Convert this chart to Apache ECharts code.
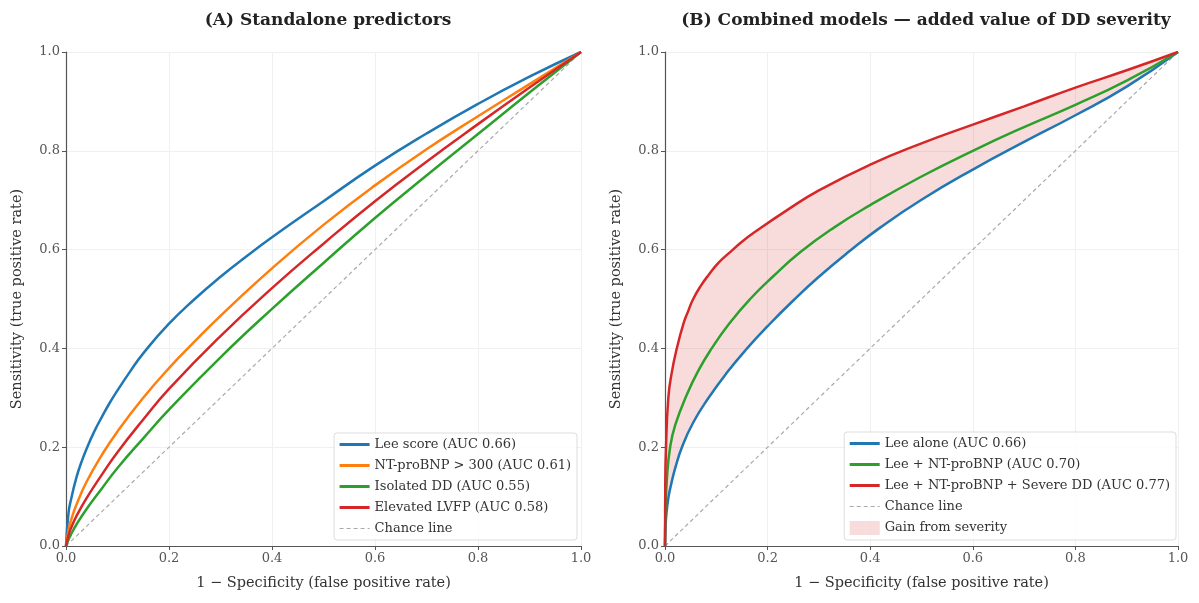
<!DOCTYPE html>
<html>
<head>
<meta charset="utf-8">
<script src="https://cdn.jsdelivr.net/npm/echarts@6/dist/echarts.min.js"></script>
<style>
  html, body { margin: 0; padding: 0; background: #fff; }
  #chart { width: 1199px; height: 603px; }
</style>
</head>
<body>
<div id="chart"></div>
<script>
// ROC points [1 - specificity, sensitivity]

// panel A: standalone predictors
var leeScore = [[0,0],[0.005,0.068],[0.01,0.095],[0.02,0.138],[0.03,0.17],[0.04,0.197],[0.055,0.232],[0.07,0.262],[0.085,0.29],[0.1,0.315],[0.125,0.354],[0.15,0.39],[0.2,0.45],[0.25,0.5],[0.3,0.545],[0.35,0.586],[0.4,0.625],[0.5,0.698],[0.6,0.77],[0.7,0.835],[0.8,0.895],[0.9,0.95],[1,1]];
var ntProBnp = [[0,0],[0.005,0.033],[0.01,0.053],[0.02,0.083],[0.04,0.13],[0.07,0.185],[0.1,0.232],[0.15,0.3],[0.2,0.36],[0.25,0.414],[0.3,0.466],[0.4,0.562],[0.5,0.65],[0.6,0.73],[0.7,0.803],[0.8,0.87],[0.9,0.935],[1,1]];
var isolatedDD = [[0,0],[0.005,0.013],[0.01,0.024],[0.02,0.043],[0.04,0.075],[0.07,0.117],[0.1,0.158],[0.15,0.218],[0.2,0.276],[0.3,0.382],[0.4,0.48],[0.5,0.573],[0.6,0.664],[0.7,0.75],[0.8,0.834],[0.9,0.918],[1,1]];
var elevatedLVFP = [[0,0],[0.005,0.022],[0.01,0.037],[0.02,0.06],[0.04,0.097],[0.07,0.145],[0.1,0.19],[0.15,0.256],[0.2,0.318],[0.3,0.425],[0.4,0.522],[0.5,0.612],[0.6,0.698],[0.7,0.778],[0.8,0.854],[0.9,0.928],[1,1]];

// panel B: combined models
var leeAlone = [[0,0],[0.001,0.035],[0.003,0.068],[0.007,0.1],[0.012,0.125],[0.02,0.158],[0.033,0.2],[0.055,0.25],[0.085,0.3],[0.12,0.35],[0.16,0.4],[0.2,0.445],[0.25,0.497],[0.3,0.545],[0.36,0.597],[0.42,0.645],[0.5,0.701],[0.6,0.762],[0.7,0.818],[0.8,0.872],[0.9,0.93],[1,1]];
var leeNtProBnp = [[0,0],[0.001,0.07],[0.004,0.14],[0.01,0.2],[0.02,0.245],[0.042,0.305],[0.065,0.355],[0.091,0.4],[0.125,0.45],[0.166,0.5],[0.21,0.545],[0.264,0.595],[0.33,0.645],[0.4,0.69],[0.5,0.748],[0.6,0.8],[0.7,0.848],[0.8,0.893],[0.9,0.942],[1,1]];
var leeNtSevereDD = [[0,0],[0.0005,0.12],[0.002,0.2],[0.0065,0.3],[0.013,0.35],[0.023,0.4],[0.036,0.45],[0.045,0.475],[0.055,0.5],[0.07,0.527],[0.086,0.55],[0.105,0.574],[0.127,0.595],[0.15,0.616],[0.177,0.637],[0.238,0.68],[0.3,0.72],[0.4,0.772],[0.5,0.815],[0.6,0.853],[0.7,0.89],[0.8,0.928],[0.9,0.963],[1,1]];

var chance = [[0,0],[1,1]];

var namesA = ['Lee score (AUC 0.66)', 'NT-proBNP > 300 (AUC 0.61)', 'Isolated DD (AUC 0.55)', 'Elevated LVFP (AUC 0.58)', 'Chance line'];
var namesB = ['Lee alone (AUC 0.66)', 'Lee + NT-proBNP (AUC 0.70)', 'Lee + NT-proBNP + Severe DD (AUC 0.77)', 'Chance line', 'Gain from severity'];

var BLUE = '#1f77b4', ORANGE = '#ff7f0e', GREEN = '#2ca02c', RED = '#d62728';
var GAIN = 'rgba(214,39,40,0.17)';
var FONT = 'DejaVu Serif';

var myChart = echarts.init(document.getElementById('chart'));

function axisX(idx) {
    return {
        type: 'value', gridIndex: idx, min: 0, max: 1, interval: 0.2,
        name: '1 \u2212 Specificity (false positive rate)',
        nameLocation: 'middle', nameGap: 30,
        nameTextStyle: { fontFamily: FONT, fontSize: 14.5, color: '#333' },
        axisLine: { lineStyle: { color: '#555', width: 1.2 } },
        axisTick: { show: true, length: 4, lineStyle: { color: '#555' } },
        axisLabel: { fontFamily: FONT, fontSize: 13, color: '#555', margin: 6,
            formatter: function (v) { return v.toFixed(1); } },
        splitLine: { show: true, lineStyle: { color: '#f0f0f0', width: 1 } }
    };
}
function axisY(idx) {
    return {
        type: 'value', gridIndex: idx, min: 0, max: 1, interval: 0.2,
        name: 'Sensitivity (true positive rate)',
        nameLocation: 'middle', nameGap: 41,
        nameTextStyle: { fontFamily: FONT, fontSize: 14.5, color: '#333' },
        axisLine: { show: true, lineStyle: { color: '#555', width: 1.2 } },
        axisTick: { show: true, length: 4, lineStyle: { color: '#555' } },
        axisLabel: { fontFamily: FONT, fontSize: 13, color: '#555', margin: 6,
            formatter: function (v) { return v.toFixed(1); } },
        splitLine: { show: true, lineStyle: { color: '#f0f0f0', width: 1 } }
    };
}
function curve(name, data, color, idx) {
    return {
        name: name, type: 'line', data: data, xAxisIndex: idx, yAxisIndex: idx,
        smooth: 0.5, symbol: 'none',
        lineStyle: { color: color, width: 2.5 },
        itemStyle: { color: color }, z: 3
    };
}
function chanceLine(idx) {
    return {
        name: 'Chance line', type: 'line', data: chance, xAxisIndex: idx, yAxisIndex: idx,
        symbol: 'none', lineStyle: { color: '#aaa', width: 1.2, type: [4, 3] },
        itemStyle: { color: '#aaa' }, z: 2
    };
}
function legendBox(data, right) {
    var items = data.map(function (d) {
        if (typeof d !== 'string') return d;
        if (d === 'Chance line') return { name: d, lineStyle: { width: 1.2 } };
        return d;
    });
    return {
        data: items, orient: 'vertical', right: right, bottom: 63,
        itemWidth: 30, itemHeight: 14, itemGap: 8,
        padding: [5, 6, 5, 4],
        // hide the circle that line series put in their legend icon
        itemStyle: { opacity: 0 },
        lineStyle: { width: 3 },
        backgroundColor: 'rgba(255,255,255,0.85)',
        borderColor: '#ddd', borderWidth: 1, borderRadius: 3,
        textStyle: { fontFamily: FONT, fontSize: 13, color: '#333' }
    };
}

var legendB = namesB.slice(0, 4);
legendB.push({ name: namesB[4], icon: 'rect', itemStyle: { opacity: 1, color: GAIN } });

var option = {
    backgroundColor: '#fff',
    animation: false,
    title: [
        { text: '(A) Standalone predictors', left: 323, top: 7, textAlign: 'center',
          textStyle: { fontFamily: FONT, fontSize: 17, fontWeight: 'bold', color: '#222' } },
        { text: '(B) Combined models \u2014 added value of DD severity', left: 921, top: 7, textAlign: 'center',
          textStyle: { fontFamily: FONT, fontSize: 17, fontWeight: 'bold', color: '#222' } }
    ],
    legend: [
        legendBox(namesA, 622),
        legendBox(legendB, 23)
    ],
    grid: [
        { left: 66, right: 618, top: 52, bottom: 57 },
        { left: 665, right: 21, top: 52, bottom: 57 }
    ],
    xAxis: [axisX(0), axisX(1)],
    yAxis: [axisY(0), axisY(1)],
    series: [
        curve(namesA[0], leeScore, BLUE, 0),
        curve(namesA[1], ntProBnp, ORANGE, 0),
        curve(namesA[2], isolatedDD, GREEN, 0),
        curve(namesA[3], elevatedLVFP, RED, 0),
        chanceLine(0),
        {
            // shaded band between Lee alone and the full model
            name: 'Gain from severity', type: 'custom', xAxisIndex: 1, yAxisIndex: 1,
            data: [[0, 0]], z: 1,
            itemStyle: { color: GAIN },
            renderItem: function (params, api) {
                var pts = [];
                leeNtSevereDD.forEach(function (p) { pts.push(api.coord(p)); });
                leeAlone.slice().reverse().forEach(function (p) { pts.push(api.coord(p)); });
                return { type: 'polygon', shape: { points: pts }, style: { fill: GAIN } };
            }
        },
        curve(namesB[0], leeAlone, BLUE, 1),
        curve(namesB[1], leeNtProBnp, GREEN, 1),
        curve(namesB[2], leeNtSevereDD, RED, 1),
        chanceLine(1)
    ]
};

myChart.setOption(option);
</script>
</body>
</html>
